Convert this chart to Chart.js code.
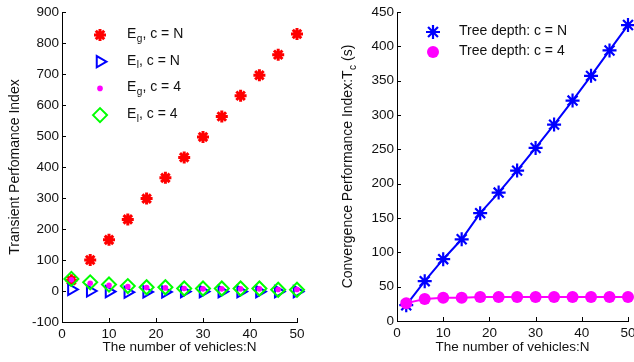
<!DOCTYPE html>
<html>
<head>
<meta charset="utf-8">
<script src="https://cdn.jsdelivr.net/npm/chart.js@4.4.1/dist/chart.umd.min.js"></script>
<style>
    html, body { margin: 0; padding: 0; background: #fff; overflow: hidden; }
    #wrap { position: relative; width: 634px; height: 362px; overflow: hidden; }
    #left { position: absolute; left: 0; top: 0; width: 317px; height: 362px; }
    #right { position: absolute; left: 317px; top: 0; width: 330px; height: 362px; }
</style>
</head>
<body>
<div id="wrap">
    <canvas id="left" width="317" height="362"></canvas>
    <canvas id="right" width="330" height="362"></canvas>
</div>
<script>
// number of vehicles (shared x values)
const vehicles = [2, 6, 10, 14, 18, 22, 26, 30, 34, 38, 42, 46, 50];

// left panel: transient performance index
const egTreeN = [35, 100, 165, 231, 298, 365, 431, 497, 563, 630, 696, 762, 829];
const elTreeN = [5, 0, -2, -4, -3, -3, -2, -2, -2, -2, -2, -2, -2];
const egTree4 = [36, 25, 18, 14, 11, 10, 8, 7, 7, 7, 7, 5, 5];
const elTree4 = [39, 28, 21, 16, 12, 12, 8, 8, 8, 8, 8, 4, 4];

// right panel: convergence time
const tcTreeN = [23, 58, 90, 119, 157, 187, 219, 252, 286, 321, 357, 394, 431];
const tcTree4 = [26, 32, 34, 34, 35, 35, 35, 35, 35, 35, 35, 35, 35];

// legend labels: [main, subscript, rest]
const leftLabels = [['E', 'g', ', c = N'], ['E', 'l', ', c = N'], ['E', 'g', ', c = 4'], ['E', 'l', ', c = 4']];
const rightLabels = [['Tree depth: c = N', '', ''], ['Tree depth: c = 4', '', '']];

const xLabel = 'The number of vehicles:N';
const leftYLabel = ['Transient Perfomance Index', '', ''];
const rightYLabel = ['Convergence Performance Index:T', 'c', ' (s)'];

const FONT = '"Liberation Sans", Arial, Helvetica, sans-serif';
Chart.defaults.font.family = FONT;
Chart.defaults.font.size = 13.5;
Chart.defaults.color = '#111';

const toPoints = arr => vehicles.map((n, i) => ({ x: n, y: arr[i] }));

// draws "main" + subscript + rest, starting at x
function drawRich(ctx, parts, x, y, size) {
    ctx.textBaseline = 'middle';
    ctx.textAlign = 'left';
    ctx.font = size + 'px ' + FONT;
    ctx.fillText(parts[0], x, y);
    x += ctx.measureText(parts[0]).width;
    if (parts[1]) {
        ctx.font = (size * 0.72) + 'px ' + FONT;
        ctx.fillText(parts[1], x + 0.5, y + 5);
        x += ctx.measureText(parts[1]).width + 0.5;
        ctx.font = size + 'px ' + FONT;
    }
    if (parts[2]) ctx.fillText(parts[2], x, y);
}

function richWidth(ctx, parts, size) {
    ctx.font = size + 'px ' + FONT;
    let w = ctx.measureText(parts[0]).width + ctx.measureText(parts[2]).width;
    ctx.font = (size * 0.72) + 'px ' + FONT;
    if (parts[1]) w += ctx.measureText(parts[1]).width + 0.5;
    return w;
}

// matlab style ticks pointing into the plot
const inwardTicks = {
    id: 'inwardTicks',
    afterDraw(chart) {
        const { ctx, chartArea: a, scales: { x, y } } = chart;
        ctx.save();
        ctx.strokeStyle = '#000';
        ctx.lineWidth = 1;
        ctx.beginPath();
        x.ticks.forEach(t => {
            const px = Math.round(x.getPixelForValue(t.value)) + 0.5;
            ctx.moveTo(px, a.bottom);
            ctx.lineTo(px, a.bottom - 4);
        });
        y.ticks.forEach(t => {
            const py = Math.round(y.getPixelForValue(t.value)) + 0.5;
            ctx.moveTo(a.left, py);
            ctx.lineTo(a.left + 4, py);
        });
        ctx.stroke();
        ctx.restore();
    }
};

const yTitle = {
    id: 'yTitle',
    afterDraw(chart, args, opts) {
        const { ctx, chartArea: a } = chart;
        const w = richWidth(ctx, opts.parts, 14);
        ctx.save();
        ctx.translate(opts.x, (a.top + a.bottom) / 2);
        ctx.rotate(-Math.PI / 2);
        ctx.fillStyle = '#111';
        drawRich(ctx, opts.parts, -w / 2, 0, 14);
        ctx.restore();
    }
};

const markerLegend = {
    id: 'markerLegend',
    afterDraw(chart, args, opts) {
        const ctx = chart.ctx;
        ctx.save();
        chart.data.datasets.forEach((ds, i) => {
            const y = opts.y0 + i * opts.dy;
            ctx.strokeStyle = ds.pointBorderColor;
            ctx.fillStyle = ds.pointBackgroundColor;
            ctx.lineWidth = ds.pointBorderWidth;
            Chart.helpers.drawPoint(ctx, {
                pointStyle: ds.pointStyle,
                rotation: ds.pointRotation || 0,
                radius: ds.pointRadius,
                borderWidth: ds.pointBorderWidth
            }, opts.markerX, y);
            ctx.fillStyle = '#111';
            drawRich(ctx, opts.labels[i], opts.textX, y - 1, 14);
        });
        ctx.restore();
    }
};

function makeScales(yMin, yMax, yStep, yWidth, xHeight) {
    return {
        x: {
            type: 'linear', min: 0, max: 50,
            ticks: { stepSize: 10, padding: 4, color: '#111', maxRotation: 0 },
            grid: { display: false, drawTicks: false },
            border: { display: true, color: '#000', width: 1 },
            title: { display: true, text: xLabel, color: '#111', padding: { top: 0, bottom: 7 } },
            afterFit: s => { s.height = xHeight; }
        },
        y: {
            type: 'linear', min: yMin, max: yMax,
            ticks: { stepSize: yStep, padding: 3, color: '#111' },
            grid: { display: false, drawTicks: false },
            border: { display: true, color: '#000', width: 1 },
            afterFit: s => { s.width = yWidth; }
        }
    };
}

new Chart(document.getElementById('left'), {
    type: 'line',
    data: {
        datasets: [
            { data: toPoints(egTreeN), showLine: false, order: 4, clip: false,
              pointStyle: 'star', pointRadius: 6, pointBorderWidth: 3,
              pointBorderColor: '#ff0000', pointBackgroundColor: '#ff0000' },
            { data: toPoints(elTreeN), showLine: false, order: 3, clip: false,
              pointStyle: 'triangle', pointRotation: 90, pointRadius: 6.5, pointBorderWidth: 2,
              pointBorderColor: '#0000ff', pointBackgroundColor: 'rgba(0,0,0,0)' },
            { data: toPoints(egTree4), showLine: false, order: 2, clip: false,
              pointStyle: 'circle', pointRadius: 2.8, pointBorderWidth: 0,
              pointBorderColor: '#ff00ff', pointBackgroundColor: '#ff00ff' },
            { data: toPoints(elTree4), showLine: false, order: 1, clip: false,
              pointStyle: 'rectRot', pointRadius: 7, pointBorderWidth: 2,
              pointBorderColor: '#00ff00', pointBackgroundColor: 'rgba(0,0,0,0)' }
        ]
    },
    options: {
        responsive: false, animation: false, devicePixelRatio: 1,
        layout: { padding: { left: 0, top: 12, right: 20, bottom: 0 } },
        scales: makeScales(-100, 900, 100, 62, 40),
        plugins: {
            legend: { display: false }, tooltip: { enabled: false },
            yTitle: { parts: leftYLabel, x: 15 },
            markerLegend: { labels: leftLabels, markerX: 100, textX: 127, y0: 35, dy: 26.7 }
        }
    },
    plugins: [inwardTicks, yTitle, markerLegend]
});

new Chart(document.getElementById('right'), {
    type: 'line',
    data: {
        datasets: [
            { data: toPoints(tcTreeN), order: 2, clip: false, tension: 0,
              borderColor: '#0000ff', borderWidth: 2,
              pointStyle: 'star', pointRadius: 7, pointBorderWidth: 2.2,
              pointBorderColor: '#0000ff', pointBackgroundColor: '#0000ff' },
            { data: toPoints(tcTree4), order: 1, clip: false, tension: 0,
              borderColor: '#ff00ff', borderWidth: 2,
              pointStyle: 'circle', pointRadius: 6, pointBorderWidth: 0,
              pointBorderColor: '#ff00ff', pointBackgroundColor: '#ff00ff' }
        ]
    },
    options: {
        responsive: false, animation: false, devicePixelRatio: 1,
        layout: { padding: { left: 0, top: 12, right: 19, bottom: 0 } },
        scales: makeScales(0, 450, 50, 80, 41),
        plugins: {
            legend: { display: false }, tooltip: { enabled: false },
            yTitle: { parts: rightYLabel, x: 31 },
            markerLegend: { labels: rightLabels, markerX: 116, textX: 142, y0: 32, dy: 20 }
        }
    },
    plugins: [inwardTicks, yTitle, markerLegend]
});
</script>
</body>
</html>
